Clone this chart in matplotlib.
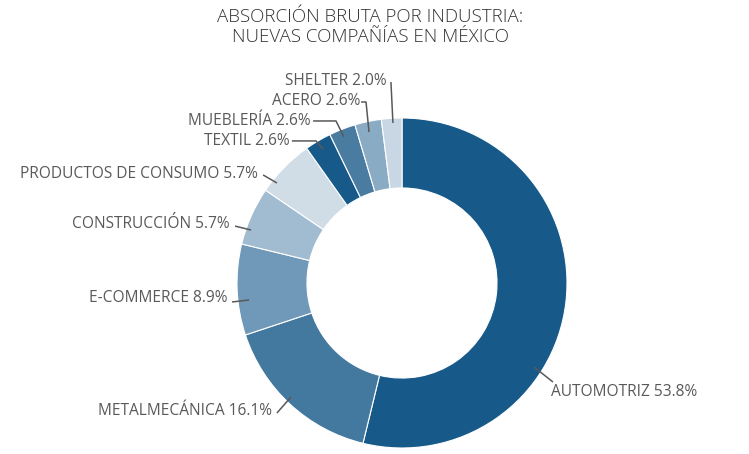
import matplotlib
matplotlib.use("Agg")
import matplotlib.pyplot as plt

categories = ["AUTOMOTRIZ", "METALMECÁNICA", "E-COMMERCE", "CONSTRUCCIÓN",
              "PRODUCTOS DE CONSUMO", "TEXTIL", "MUEBLERÍA", "ACERO", "SHELTER"]
values = [53.8, 16.1, 8.9, 5.7, 5.7, 2.6, 2.6, 2.6, 2.0]
colors = ["#175a8a", "#44799f", "#7098b8", "#a1bbd0", "#d0dde7",
          "#175a8a", "#4a7ca2", "#8aabc4", "#c8d7e3"]

title = "ABSORCIÓN BRUTA POR INDUSTRIA:\nNUEVAS COMPAÑÍAS EN MÉXICO"

# label layout (data units, radius = 1): text position, ha, leader path
label_layout = [
    ((0.903, -0.661), "left",  [(0.80, -0.509), (0.915, -0.600)]),
    ((-0.788, -0.776), "right", [(-0.673, -0.691), (-0.758, -0.788)]),
    ((-1.055, -0.091), "right", [(-0.927, -0.103), (-1.030, -0.115)]),
    ((-1.042, 0.358), "right", [(-0.915, 0.321), (-1.012, 0.345)]),
    ((-0.873, 0.661), "right", [(-0.758, 0.606), (-0.842, 0.655)]),
    ((-0.679, 0.861), "right", [(-0.479, 0.812), (-0.521, 0.861), (-0.667, 0.861)]),
    ((-0.552, 0.982), "right", [(-0.352, 0.885), (-0.400, 0.982), (-0.539, 0.982)]),
    ((-0.255, 1.103), "right", [(-0.200, 0.915), (-0.218, 1.097), (-0.248, 1.097)]),
    ((-0.091, 1.224), "right", [(-0.055, 0.970), (-0.067, 1.218)]),
]

W, H = 749, 454
fig = plt.figure(figsize=(W / 100, H / 100), dpi=100)
cx, cy, R = 402, 283, 165
ax = fig.add_axes([(cx - R) / W, (H - cy - R) / H, 2 * R / W, 2 * R / H])

ax.pie(values, colors=colors, startangle=90, counterclock=False, radius=1,
       wedgeprops=dict(width=0.424, edgecolor="white", linewidth=0.8))
ax.set_xlim(-1, 1)
ax.set_ylim(-1, 1)
ax.set_aspect("equal")
ax.axis("off")

txt_color = "#595959"
for cat, val, (pos, ha, path) in zip(categories, values, label_layout):
    xs = [p[0] for p in path]
    ys = [p[1] for p in path]
    ax.plot(xs, ys, color=txt_color, lw=1.1, clip_on=False, solid_capstyle="butt")
    ax.text(pos[0], pos[1], f"{cat} {val:.1f}%", ha=ha, va="center",
            fontsize=11.2, color=txt_color, family="Open Sans", clip_on=False)

fig.text(370 / W, 1 - 27 / H, title, ha="center", va="center", fontsize=13.5,
         color="#333333", family="Open Sans", fontweight="light", linespacing=1.15)

fig.savefig("out.png", dpi=100, facecolor="white")
